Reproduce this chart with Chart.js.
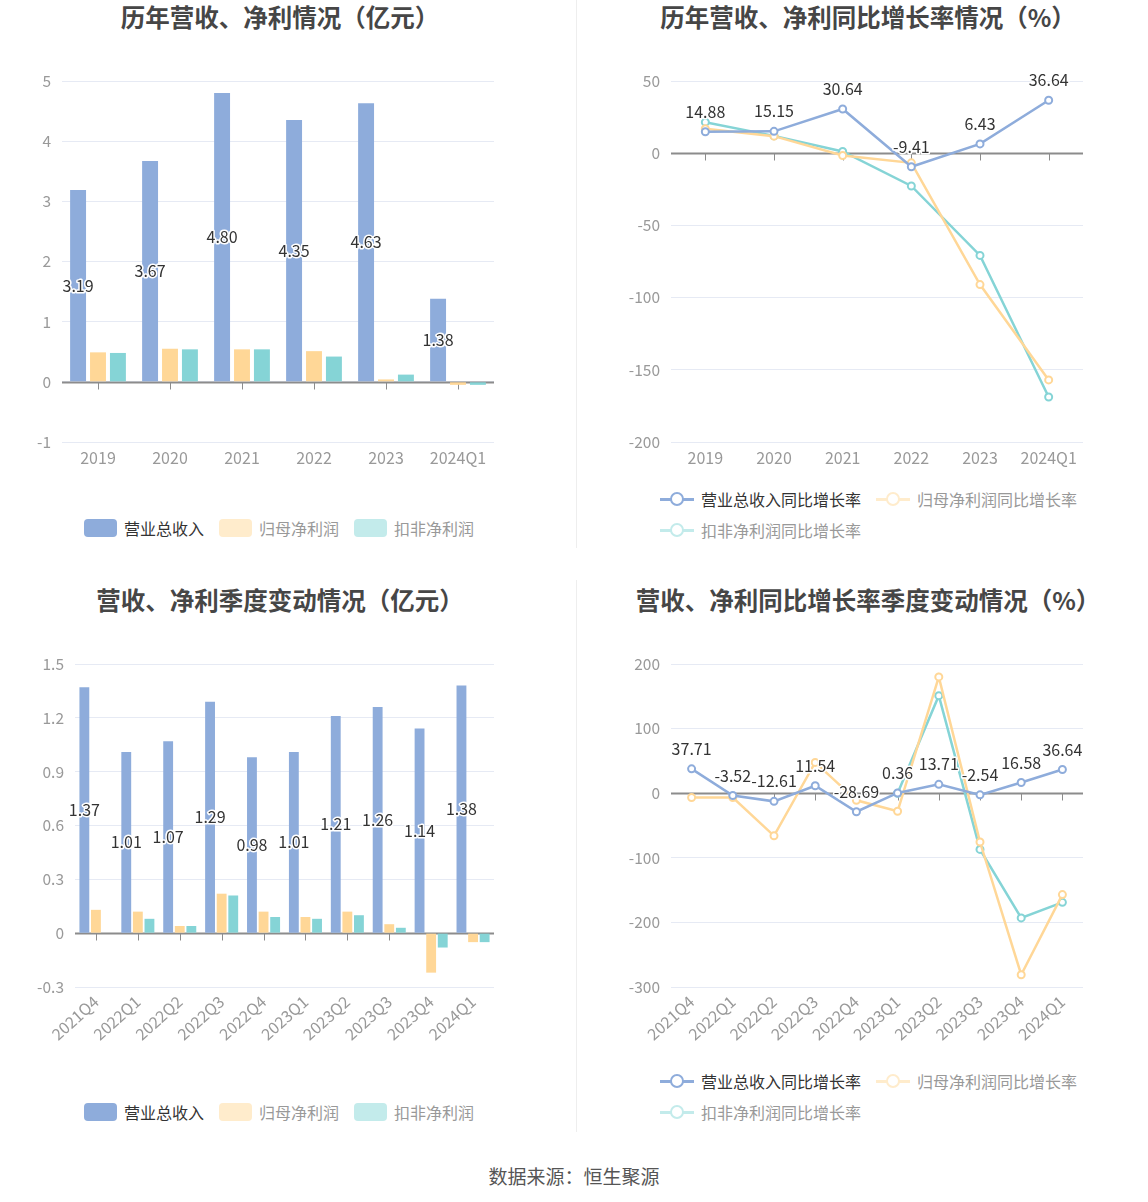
<!DOCTYPE html>
<html>
<head>
<meta charset="utf-8">
<script src="https://cdn.jsdelivr.net/npm/chart.js@4.4.0/dist/chart.umd.min.js"></script>
<style>
body{margin:0;background:#fff;font-family:"Noto Sans CJK SC","Noto Sans",sans-serif;}
#page{position:relative;width:1148px;height:1202px;overflow:hidden;}
.title{position:absolute;font-size:24.5px;font-weight:bold;color:#464646;white-space:nowrap;transform:translate(-50%,-50%);}
.box{position:absolute;width:574px;height:420px;}
.legend{position:absolute;height:22px;display:flex;align-items:center;font-size:16px;color:#999;white-space:nowrap;}
.item{display:flex;align-items:center;margin-right:15px;}
.sw{width:33px;height:18px;border-radius:4px;margin-right:7px;}
.ln{position:relative;width:34px;height:16px;margin-right:7px;}
.ln:before{content:"";position:absolute;left:0;right:0;top:6.5px;height:3px;background:var(--c);}
.ln:after{content:"";position:absolute;left:9.5px;top:0.5px;width:10px;height:10px;border:2.5px solid var(--c);border-radius:50%;background:#fff;}
.vline{position:absolute;left:576px;width:1px;background:#eeeeee;}
#foot{position:absolute;left:0;width:1148px;top:1162px;text-align:center;font-size:19px;color:#555;}
</style>
</head>
<body>
<div id="page">
  <div class="vline" style="top:0;height:548px"></div>
  <div class="vline" style="top:580px;height:552px"></div>

  <div class="title" style="left:280px;top:16px">历年营收、净利情况（亿元）</div>
  <div class="title" style="left:868px;top:16px">历年营收、净利同比增长率情况（%）</div>
  <div class="title" style="left:280px;top:599px">营收、净利季度变动情况（亿元）</div>
  <div class="title" style="left:868px;top:599px">营收、净利同比增长率季度变动情况（%）</div>

  <div class="box" style="left:0;top:60px"><canvas id="c1"></canvas></div>
  <div class="box" style="left:574px;top:60px"><canvas id="c2"></canvas></div>
  <div class="box" style="left:0;top:640px"><canvas id="c3"></canvas></div>
  <div class="box" style="left:574px;top:640px"><canvas id="c4"></canvas></div>

  <div class="legend" id="lg1" style="left:84px;top:517px"></div>
  <div class="legend" id="lg2a" style="left:660px;top:488px"></div>
  <div class="legend" id="lg2b" style="left:660px;top:519px"></div>
  <div class="legend" id="lg3" style="left:84px;top:1101px"></div>
  <div class="legend" id="lg4a" style="left:660px;top:1070px"></div>
  <div class="legend" id="lg4b" style="left:660px;top:1101px"></div>

  <div id="foot">数据来源：恒生聚源</div>
</div>
<script>
// ---------- data ----------
const years = ['2019', '2020', '2021', '2022', '2023', '2024Q1'];
const quarters = ['2021Q4', '2022Q1', '2022Q2', '2022Q3', '2022Q4', '2023Q1', '2023Q2', '2023Q3', '2023Q4', '2024Q1'];

const barNames = ['营业总收入', '归母净利润', '扣非净利润'];
const lineNames = ['营业总收入同比增长率', '归母净利润同比增长率', '扣非净利润同比增长率'];

const yearRevenue = [3.19, 3.67, 4.80, 4.35, 4.63, 1.38];
const yearNetProfit = [0.49, 0.55, 0.54, 0.51, 0.04, -0.05];
const yearDeducted = [0.48, 0.54, 0.54, 0.42, 0.12, -0.05];

const yearRevenueYoY = [14.88, 15.15, 30.64, -9.41, 6.43, 36.64];
const yearNetProfitYoY = [16.9, 11.8, -1.6, -6.7, -91.0, -157.0];
const yearDeductedYoY = [21.5, 12.0, 1.2, -22.7, -70.8, -168.8];

const qRevenue = [1.37, 1.01, 1.07, 1.29, 0.98, 1.01, 1.21, 1.26, 1.14, 1.38];
const qNetProfit = [0.13, 0.12, 0.04, 0.22, 0.12, 0.09, 0.12, 0.05, -0.22, -0.05];
const qDeducted = [null, 0.08, 0.04, 0.21, 0.09, 0.08, 0.10, 0.03, -0.08, -0.05];

const qRevenueYoY = [37.71, -3.52, -12.61, 11.54, -28.69, 0.36, 13.71, -2.54, 16.58, 36.64];
const qNetProfitYoY = [-6.7, -6.7, -66, 47.7, -11, -28, 180, -75.6, -281, -157];
const qDeductedYoY = [null, null, null, null, null, 0, 151, -87, -193, -169];

const yearAmtTicks = [-1, 0, 1, 2, 3, 4, 5];
const yearPctTicks = [-200, -150, -100, -50, 0, 50];
const qAmtTicks = [-0.3, 0, 0.3, 0.6, 0.9, 1.2, 1.5];
const qPctTicks = [-300, -200, -100, 0, 100, 200];

const colors = ['#8eacdb', '#ffd797', '#85d4d6'];
const fadedColors = ['#8eacdb', '#ffeccc', '#c3ebeb'];
const FONT = "'Noto Sans CJK SC', 'Noto Sans', sans-serif";

// ---------- plugins ----------
const zeroLine = {
  id: 'zeroLine',
  beforeDatasetsDraw(chart) {
    const {ctx, chartArea, scales: {x, y}} = chart;
    const y0 = Math.round(y.getPixelForValue(0)) + 0.5;
    ctx.save();
    ctx.strokeStyle = '#8c8c8c';
    ctx.lineWidth = 2;
    ctx.beginPath();
    ctx.moveTo(chartArea.left, y0);
    ctx.lineTo(chartArea.right, y0);
    ctx.stroke();
    ctx.lineWidth = 1;
    ctx.beginPath();
    x.ticks.forEach((t, i) => {
      const px = Math.round(x.getPixelForTick(i)) + 0.5;
      ctx.moveTo(px, y0);
      ctx.lineTo(px, y0 + 7);
    });
    ctx.stroke();
    ctx.restore();
  }
};

const valueLabels = {
  id: 'valueLabels',
  afterDatasetsDraw(chart, args, opts) {
    const {ctx} = chart;
    const meta = chart.getDatasetMeta(0);
    const data = chart.data.datasets[0].data;
    ctx.save();
    ctx.font = '16px ' + FONT;
    ctx.textAlign = 'center';
    ctx.textBaseline = 'middle';
    ctx.lineJoin = 'round';
    meta.data.forEach((el, i) => {
      const v = data[i];
      if (v == null) return;
      const x = el.x;
      const y = opts.mode === 'bar' ? (el.y + el.base) / 2 : el.y - 20;
      const s = v.toFixed(2);
      ctx.lineWidth = 3;
      ctx.strokeStyle = '#fff';
      ctx.strokeText(s, x, y);
      ctx.fillStyle = '#333';
      ctx.fillText(s, x, y);
    });
    ctx.restore();
  }
};

// ---------- helpers ----------
function makeOptions(cfg) {
  return {
    responsive: true,
    maintainAspectRatio: false,
    animation: false,
    layout: {padding: cfg.pad},
    plugins: {
      legend: {display: false},
      tooltip: {enabled: false},
      valueLabels: {mode: cfg.mode}
    },
    scales: {
      x: {
        offset: true,
        grid: {display: false, drawTicks: false},
        border: {display: false},
        ticks: {
          color: '#999', font: {size: 16, family: FONT}, padding: cfg.xpad,
          minRotation: cfg.rot, maxRotation: cfg.rot, autoSkip: false
        },
        afterFit(s) { s.height = cfg.xh; }
      },
      y: {
        min: cfg.ticks[0],
        max: cfg.ticks[cfg.ticks.length - 1],
        grid: {color: '#e6eaf4', drawTicks: false},
        border: {display: false},
        ticks: {color: '#999', font: {size: 15.5, family: FONT}, padding: 11, callback: v => String(v)},
        afterBuildTicks(s) { s.ticks = cfg.ticks.map(v => ({value: v})); },
        afterFit(s) { s.width = cfg.yw; }
      }
    }
  };
}

function barChart(id, labels, series, cfg) {
  return new Chart(document.getElementById(id), {
    type: 'bar',
    data: {
      labels: labels,
      datasets: series.map((d, i) => ({
        label: barNames[i], data: d, backgroundColor: colors[i],
        categoryPercentage: cfg.cp, barPercentage: cfg.bp
      }))
    },
    options: makeOptions(Object.assign({mode: 'bar'}, cfg)),
    plugins: [zeroLine, valueLabels]
  });
}

function lineChart(id, labels, series, cfg) {
  return new Chart(document.getElementById(id), {
    type: 'line',
    data: {
      labels: labels,
      datasets: series.map((d, i) => ({
        label: lineNames[i], data: d, borderColor: colors[i], borderWidth: 2.5,
        pointRadius: 3.5, pointBorderWidth: 2, pointBackgroundColor: '#fff',
        pointBorderColor: colors[i], tension: 0, spanGaps: false
      }))
    },
    options: makeOptions(Object.assign({mode: 'line'}, cfg)),
    plugins: [zeroLine, valueLabels]
  });
}

function barLegend(id) {
  const el = document.getElementById(id);
  barNames.forEach((n, i) => {
    const it = document.createElement('div');
    it.className = 'item';
    it.innerHTML = '<div class="sw" style="background:' + fadedColors[i] + '"></div><span style="color:' +
      (i === 0 ? '#333' : '#999') + '">' + n + '</span>';
    el.appendChild(it);
  });
}

function lineLegend(idA, idB) {
  lineNames.forEach((n, i) => {
    const el = document.getElementById(i < 2 ? idA : idB);
    const it = document.createElement('div');
    it.className = 'item';
    it.innerHTML = '<div class="ln" style="--c:' + fadedColors[i] + '"></div><span style="color:' +
      (i === 0 ? '#333' : '#999') + '">' + n + '</span>';
    el.appendChild(it);
  });
}

// ---------- charts ----------
barChart('c1', years, [yearRevenue, yearNetProfit, yearDeducted], {
  ticks: yearAmtTicks, pad: {top: 21, right: 80, bottom: 13, left: 0},
  yw: 62, xh: 25, xpad: 6, rot: 0, cp: 0.83, bp: 0.8
});

lineChart('c2', years, [yearRevenueYoY, yearNetProfitYoY, yearDeductedYoY], {
  ticks: yearPctTicks, pad: {top: 21, right: 65, bottom: 13, left: 0},
  yw: 97, xh: 25, xpad: 6, rot: 0
});

barChart('c3', quarters, [qRevenue, qNetProfit, qDeducted], {
  ticks: qAmtTicks, pad: {top: 24, right: 80, bottom: 13, left: 0},
  yw: 75, xh: 60, xpad: 5, rot: 42, cp: 0.83, bp: 0.85
});

lineChart('c4', quarters, [qRevenueYoY, qNetProfitYoY, qDeductedYoY], {
  ticks: qPctTicks, pad: {top: 24, right: 65, bottom: 13, left: 0},
  yw: 97, xh: 60, xpad: 5, rot: 42
});

barLegend('lg1');
barLegend('lg3');
lineLegend('lg2a', 'lg2b');
lineLegend('lg4a', 'lg4b');
</script>
</body>
</html>
